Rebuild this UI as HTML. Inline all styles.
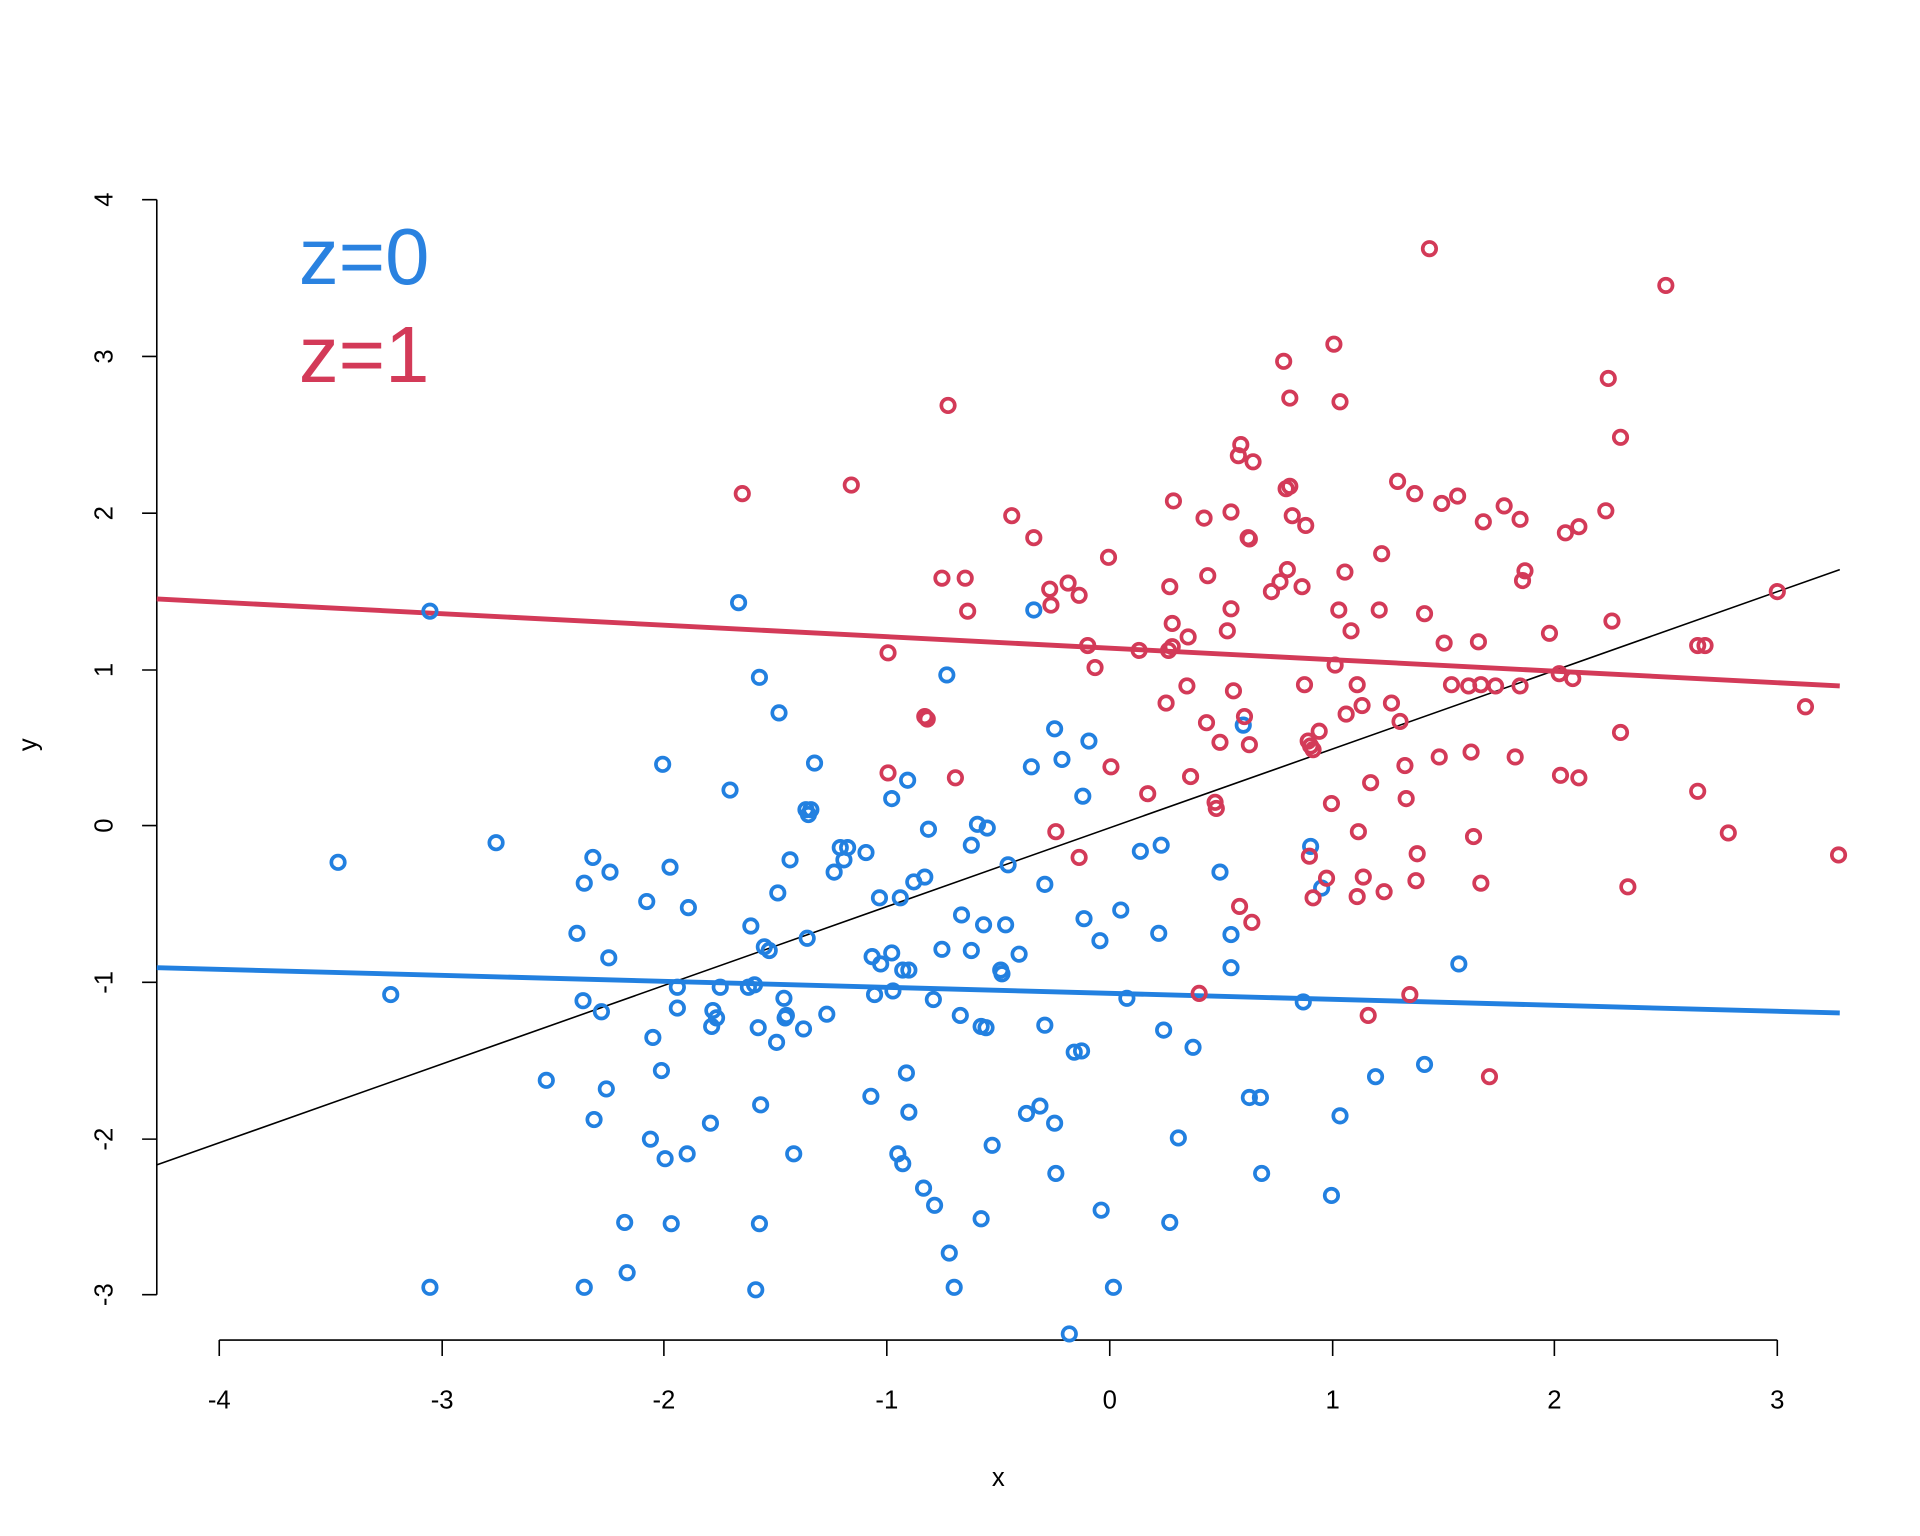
<!DOCTYPE html>
<html><head><style>html,body{margin:0;padding:0;background:#fff}svg{display:block}</style></head>
<body>
<svg width="1920" height="1536" viewBox="0 0 1567.5 1254" preserveAspectRatio="none" xmlns="http://www.w3.org/2000/svg" font-family="Liberation Sans, sans-serif">
<rect width="1600" height="1300" fill="#fff"/>
<g stroke="#000" stroke-width="1.3" fill="none">
<path d="M128,163V1057M116,163H128M116,291H128M116,419H128M116,547H128M116,674H128M116,802H128M116,930H128M116,1057H128"/>
<path d="M179,1094H1451M179,1094v13M361,1094v13M542,1094v13M724,1094v13M906,1094v13M1088,1094v13M1269,1094v13M1451,1094v13"/>
</g>
<g font-size="21" text-anchor="middle" fill="#000">
<text x="179" y="1150">-4</text><text x="361" y="1150">-3</text><text x="542" y="1150">-2</text><text x="724" y="1150">-1</text><text x="906" y="1150">0</text><text x="1088" y="1150">1</text><text x="1269" y="1150">2</text><text x="1451" y="1150">3</text>
<text x="815" y="1213">x</text>
<g transform="rotate(-90)">
<text x="-163" y="92">4</text><text x="-291" y="92">3</text><text x="-419" y="92">2</text><text x="-547" y="92">1</text><text x="-674" y="92">0</text><text x="-802" y="92">-1</text><text x="-930" y="92">-2</text><text x="-1057" y="92">-3</text>
<text x="-608" y="30">y</text>
</g>
</g>
<text x="244" y="232" font-size="65" fill="#2a82e0">z=0</text>
<text x="244" y="312" font-size="65" fill="#d33a58">z=1</text>
<line x1="128" y1="951" x2="1502" y2="465" stroke="#000" stroke-width="1.3"/>
<line x1="128" y1="489" x2="1502" y2="560" stroke="#d33a58" stroke-width="4"/>
<line x1="128" y1="790" x2="1502" y2="827" stroke="#2280e0" stroke-width="4"/>
<g id="pts"></g>
</svg>
<script>
const B=[[351,499],[603,492],[620,553],[636,582],[276,704],[405,688],[541,624],[596,645],[665,623],[658,661],[660,665],[662,661],[728,652],[741,637],[773,551],[844,498],[861,595],[867,620],[889,605],[842,626],[884,650],[798,673],[806,676],[793,690],[758,677],[686,692],[692,692],[707,696],[681,712],[689,702],[718,733],[735,733],[746,720],[755,716],[823,706],[853,722],[931,695],[948,690],[996,712],[645,702],[635,729],[613,756],[624,773],[628,776],[659,766],[484,700],[498,712],[477,721],[471,762],[497,782],[528,736],[547,708],[562,741],[712,781],[728,778],[719,787],[737,792],[742,792],[769,775],[785,747],[803,755],[793,776],[821,755],[832,779],[817,792],[818,795],[729,809],[714,812],[762,816],[675,828],[640,815],[616,804],[588,806],[553,806],[553,823],[582,825],[585,831],[581,838],[619,839],[641,831],[634,851],[656,840],[642,829],[611,806],[476,817],[491,826],[533,847],[540,874],[446,882],[495,889],[485,914],[580,917],[531,930],[543,946],[561,942],[621,902],[648,942],[740,876],[711,895],[742,908],[733,942],[737,950],[754,970],[763,984],[805,839],[801,838],[784,829],[853,837],[883,858],[877,859],[810,935],[838,909],[849,903],[861,917],[862,958],[899,988],[920,815],[898,768],[885,750],[946,762],[950,841],[974,855],[962,929],[955,998],[915,743],[1005,763],[1005,790],[1020,896],[1029,896],[1030,958],[1064,818],[1070,691],[1079,725],[1094,911],[1123,879],[1163,869],[1191,787],[1087,976],[548,999],[510,998],[512,1039],[477,1051],[351,1051],[319,812],[620,999],[617,1053],[775,1023],[779,1051],[801,995],[909,1051],[873,1089],[1015,592]];
const R=[[774,331],[606,403],[695,396],[826,421],[844,439],[769,472],[788,472],[790,499],[857,481],[858,494],[872,476],[881,486],[905,455],[888,527],[894,545],[930,531],[954,531],[957,528],[957,509],[955,479],[958,409],[983,423],[1019,439],[1011,372],[1013,363],[1023,377],[1005,418],[1048,295],[1051,465],[1050,399],[1053,397],[1055,421],[1066,429],[1045,475],[1038,483],[1089,281],[1094,328],[1053,325],[1098,467],[1093,498],[1103,515],[1128,452],[1141,393],[1155,403],[1167,203],[1177,411],[1190,405],[1228,413],[1211,426],[1241,424],[1245,466],[1243,474],[1313,309],[1323,357],[1311,417],[1289,430],[1278,435],[1360,233],[1265,517],[1316,507],[1126,498],[1163,501],[1179,525],[1207,524],[1185,559],[1199,560],[1209,559],[1221,560],[1241,560],[1273,550],[1284,554],[1386,527],[1392,527],[1451,483],[1474,577],[1323,598],[1386,646],[1411,680],[1501,698],[1329,724],[1274,633],[1289,635],[1237,618],[1201,614],[1175,618],[1147,625],[1148,652],[1119,639],[1136,574],[1143,589],[1112,576],[1108,559],[1099,583],[1090,543],[1077,597],[1068,605],[1070,609],[1072,612],[1065,559],[1063,479],[1020,440],[986,470],[1005,497],[1002,515],[1007,564],[1016,585],[1020,608],[996,606],[985,590],[969,560],[952,574],[970,520],[972,634],[992,655],[993,660],[937,648],[907,626],[862,679],[881,700],[780,635],[725,631],[755,585],[757,587],[725,533],[1012,740],[1022,753],[1069,699],[1072,733],[1083,717],[1087,656],[1109,679],[1113,716],[1108,732],[1130,728],[1157,697],[1156,719],[1203,683],[1209,721],[1117,829],[1151,812],[1216,879],[979,811]];
let s='';
for(const[p,q]of B)s+=`<circle cx="${p}" cy="${q}" r="5.5" fill="none" stroke="#2280e0" stroke-width="3"/>`;
for(const[p,q]of R)s+=`<circle cx="${p}" cy="${q}" r="5.5" fill="none" stroke="#d33a58" stroke-width="3"/>`;
document.getElementById('pts').innerHTML=s;
</script>
</body></html>
